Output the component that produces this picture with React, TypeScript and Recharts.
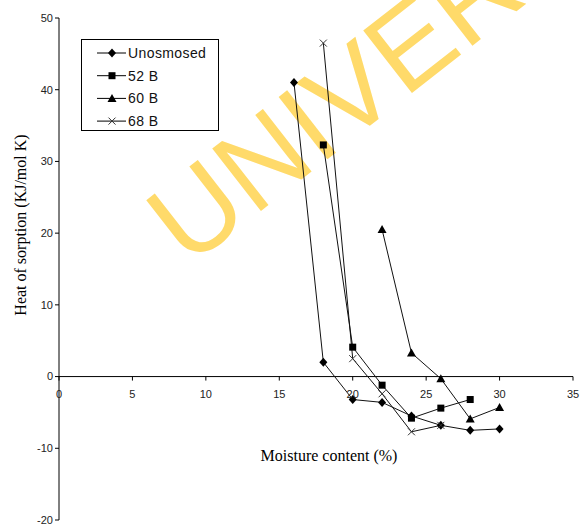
import { LineChart, Line, XAxis, YAxis, ReferenceLine } from "recharts";

// moisture content (%) per series
const moistureUnosmosed = [16, 18, 20, 22, 24, 26, 28, 30];
const moisture52B = [18, 20, 22, 24, 26, 28];
const moisture60B = [22, 24, 26, 28, 30];
const moisture68B = [18, 20, 22, 24, 26];

// heat of sorption (KJ/mol K)
const heatUnosmosed = [41, 2, -3.2, -3.6, -5.5, -6.8, -7.5, -7.3];
const heat52B = [32.3, 4.1, -1.2, -5.8, -4.4, -3.2];
const heat60B = [20.5, 3.3, -0.3, -5.9, -4.3];
const heat68B = [46.5, 2.5, -2.4, -7.7, -6.8];

const xTicks = [0, 5, 10, 15, 20, 25, 30, 35];
const yTicks = [-20, -10, 0, 10, 20, 30, 40, 50];

const toPoints = (xs: number[], ys: number[]) =>
  xs.map((x, i) => ({ x, y: ys[i] }));

const series = [
  { name: "Unosmosed", shape: "diamond", data: toPoints(moistureUnosmosed, heatUnosmosed) },
  { name: "52 B", shape: "square", data: toPoints(moisture52B, heat52B) },
  { name: "60 B", shape: "triangle", data: toPoints(moisture60B, heat60B) },
  { name: "68 B", shape: "cross", data: toPoints(moisture68B, heat68B) },
];

const W = 581;
const H = 525;
const X_AXIS_H = 20;
// negative bottom margin so the plot still reaches y = -20 at the bottom edge
const M = { top: 18, right: 8, bottom: 5 - X_AXIS_H, left: 0 };
const plotBottom = H - 5;
const plotH = plotBottom - M.top;
// pixel row of y = 0, where the x axis crosses
const zeroY = M.top + (plotH * 50) / 70;

const Marker = ({ cx, cy, shape }: { cx: number; cy: number; shape: string }) => {
  if (cx == null || cy == null) return null;
  if (shape === "diamond")
    return (
      <polygon
        points={`${cx},${cy - 4.5} ${cx + 4},${cy} ${cx},${cy + 4.5} ${cx - 4},${cy}`}
        fill="#000"
      />
    );
  if (shape === "square")
    return <rect x={cx - 3.5} y={cy - 3.5} width={7} height={7} fill="#000" />;
  if (shape === "triangle")
    return (
      <polygon
        points={`${cx},${cy - 4.5} ${cx + 4.5},${cy + 3.5} ${cx - 4.5},${cy + 3.5}`}
        fill="#000"
      />
    );
  return (
    <g stroke="#333" strokeWidth={1}>
      <line x1={cx - 3.5} y1={cy - 3.5} x2={cx + 3.5} y2={cy + 3.5} />
      <line x1={cx - 3.5} y1={cy + 3.5} x2={cx + 3.5} y2={cy - 3.5} />
    </g>
  );
};

const XTick = ({ x, payload }: any) => (
  <g>
    <line x1={x} y1={zeroY} x2={x} y2={zeroY + 4} stroke="#000" />
    <text
      x={x}
      y={zeroY + 21}
      textAnchor="middle"
      fontSize={11}
      fill="#222"
      fontFamily="Liberation Sans, Arial"
    >
      {payload.value}
    </text>
  </g>
);

const LegendBox = () => (
  <div
    style={{
      position: "absolute",
      left: 81,
      top: 39,
      width: 136,
      height: 90,
      border: "1px solid #000",
      background: "#fff",
    }}
  >
    <svg width={136} height={90}>
      {series.map((s, i) => {
        const cy = 13 + i * 22.7;
        return (
          <g key={s.name}>
            <line x1={15} y1={cy} x2={44} y2={cy} stroke="#000" />
            <Marker cx={30} cy={cy} shape={s.shape} />
            <text
              x={46}
              y={cy + 5}
              fontSize={14}
              letterSpacing={0.4}
              fill="#111"
              fontFamily="Liberation Sans, Arial"
            >
              {s.name}
            </text>
          </g>
        );
      })}
    </svg>
  </div>
);

export default function App() {
  return (
    <div
      style={{
        position: "absolute",
        left: 0,
        top: 0,
        width: W,
        height: H,
        background: "#fff",
        fontFamily: "Liberation Sans, Arial",
        overflow: "hidden",
      }}
    >
      <svg width={W} height={H} style={{ position: "absolute", left: 0, top: 0 }}>
        <text
          x={188}
          y={268}
          transform="rotate(-38 188 268)"
          fontSize={115}
          fill="#FFDA6A"
          fontFamily="Liberation Sans, Arial"
        >
          UNIVERSITY
        </text>
      </svg>
      <div style={{ position: "absolute", left: 0, top: 0 }}>
        <LineChart width={W} height={H} margin={M}>
          <XAxis
            type="number"
            dataKey="x"
            domain={[0, 35]}
            ticks={xTicks}
            interval={0}
            axisLine={false}
            tickLine={false}
            height={X_AXIS_H}
            tick={<XTick />}
          />
          <YAxis
            type="number"
            dataKey="y"
            domain={[-20, 50]}
            ticks={yTicks}
            interval={0}
            width={59}
            axisLine={{ stroke: "#000" }}
            tickLine={{ stroke: "#000" }}
            tickSize={4}
            tick={{ fontSize: 11, fill: "#222" }}
          />
          <ReferenceLine y={0} stroke="#000" />
          {series.map((s) => (
            <Line
              key={s.name}
              data={s.data}
              dataKey="y"
              name={s.name}
              stroke="#111"
              strokeWidth={1}
              isAnimationActive={false}
              dot={(p: any) => <Marker key={p.index} cx={p.cx} cy={p.cy} shape={s.shape} />}
              activeDot={false}
            />
          ))}
        </LineChart>
      </div>
      <LegendBox />
      <svg width={W} height={H} style={{ position: "absolute", left: 0, top: 0, pointerEvents: "none" }}>
        <text
          x={20}
          y={225}
          transform="rotate(-90 20 225)"
          textAnchor="middle"
          dominantBaseline="central"
          fontSize={16}
          fill="#000"
          fontFamily="Liberation Serif, Times New Roman"
        >
          Heat of sorption (KJ/mol K)
        </text>
        <text
          x={329}
          y={461}
          textAnchor="middle"
          fontSize={16}
          fill="#000"
          fontFamily="Liberation Serif, Times New Roman"
        >
          Moisture content (%)
        </text>
      </svg>
    </div>
  );
}
